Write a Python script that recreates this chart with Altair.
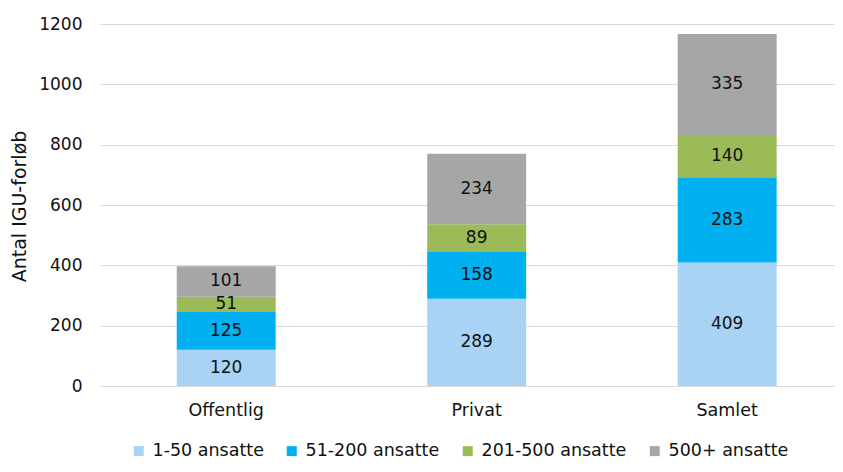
import altair as alt
import pandas as pd

categories = ["Offentlig", "Privat", "Samlet"]
series = ["1-50 ansatte", "51-200 ansatte", "201-500 ansatte", "500+ ansatte"]
colors = ["#a9d3f5", "#00b0f0", "#9bbb59", "#a6a6a6"]
values = {
    "1-50 ansatte": [120, 289, 409],
    "51-200 ansatte": [125, 158, 283],
    "201-500 ansatte": [51, 89, 140],
    "500+ ansatte": [101, 234, 335],
}
y_ticks = [0, 200, 400, 600, 800, 1000, 1200]

rows = []
for si, s in enumerate(series):
    for ci, c in enumerate(categories):
        rows.append({"cat": c, "series": s, "order": si, "value": values[s][ci]})
df = pd.DataFrame(rows)

FONT = "Verdana, DejaVu Sans"

base = alt.Chart(df).transform_stack(
    stack="value", groupby=["cat"], sort=[alt.SortField("order", order="ascending")],
    as_=["y0", "y1"]
).transform_calculate(mid="(datum.y0 + datum.y1) / 2")

xenc = alt.X("cat:N", sort=categories, title=None,
             scale=alt.Scale(paddingInner=0.605, paddingOuter=0.2697, align=0.568),
             axis=alt.Axis(labelAngle=0, domain=False, ticks=False, labelPadding=15,
                           labelFontSize=17.5, labelFont=FONT, labelColor="#111111"))

bars = base.mark_bar().encode(
    x=xenc,
    y=alt.Y("y1:Q", title="Antal IGU-forløb",
            scale=alt.Scale(domain=[0, 1200], nice=False),
            axis=alt.Axis(values=y_ticks, format="d", domain=False, ticks=False, grid=True,
                          gridColor="#d9d9d9", gridWidth=1.2, labelPadding=18,
                          labelFontSize=17, labelFont=FONT, labelColor="#111111",
                          titleFontSize=19, titleFont=FONT, titleFontWeight="normal",
                          titleColor="#111111", titleX=-71, titleY=182)),
    y2="y0:Q",
    color=alt.Color("series:N", sort=series,
                    scale=alt.Scale(domain=series, range=colors),
                    legend=alt.Legend(title=None, orient="none", direction="horizontal",
                                      columns=4, legendX=30, legendY=418,
                                      symbolType="square", symbolSize=100,
                                      symbolStrokeWidth=0, labelOffset=5,
                                      columnPadding=19, labelFontSize=17.5,
                                      labelFont=FONT, labelColor="#111111")),
)

labels = base.mark_text(fontSize=17, font=FONT, color="#111111", baseline="middle").encode(
    x=alt.X("cat:N", sort=categories),
    y=alt.Y("mid:Q"),
    text=alt.Text("value:Q"),
)

chart = alt.layer(bars, labels).properties(
    width=735, height=362,
    autosize=alt.AutoSizeParams(type="none"),
    padding={"left": 92, "top": 16, "right": 0, "bottom": 76},
).configure_view(stroke=None)

chart.save("out.html", embed_options={"renderer": "svg", "actions": False})
